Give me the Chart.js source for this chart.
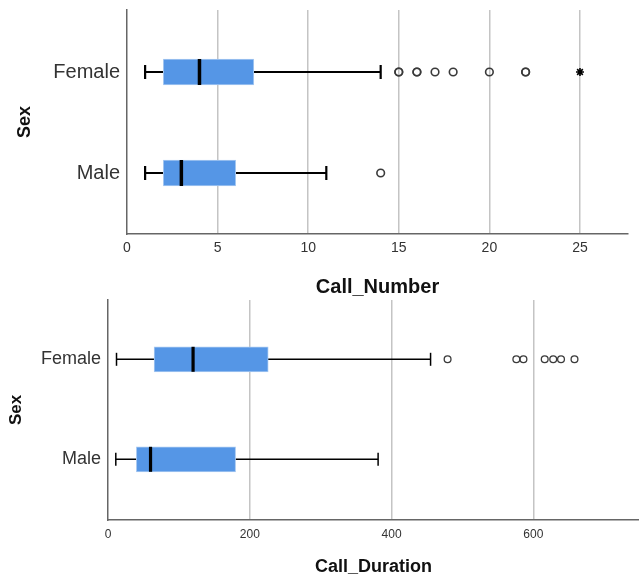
<!DOCTYPE html>
<html>
<head>
<meta charset="utf-8">
<script src="https://cdn.jsdelivr.net/npm/chart.js@4.4.0/dist/chart.umd.min.js"></script>
<style>
html, body { margin: 0; padding: 0; background: #fff; }
#wrapNumber { position: absolute; left: 0; top: 0; width: 639px; height: 299px; }
#wrapDuration { position: absolute; left: 0; top: 299px; width: 639px; height: 278px; }
</style>
</head>
<body>
<div id="wrapNumber"><canvas id="numberChart"></canvas></div>
<div id="wrapDuration"><canvas id="durationChart"></canvas></div>
<script>
// categories, top to bottom
const categories = ['Female', 'Male'];

// Call_Number box plot
const numberMin = [1, 1];
const numberQ1 = [2, 2];
const numberMedian = [4, 3];
const numberQ3 = [7, 6];
const numberMax = [14, 11];
// repeated values = several cases on the same spot (drawn darker)
const numberOutliers = [[15, 15, 16, 16, 17, 18, 20, 22, 22], [14]];
const numberExtremes = [[25], []];
const numberTicks = [0, 5, 10, 15, 20, 25];

// Call_Duration box plot
const durationMin = [12, 11];
const durationQ1 = [65, 40];
const durationMedian = [120, 60];
const durationQ3 = [226, 180];
const durationMax = [455, 381];
const durationOutliers = [[479, 576, 586, 616, 628, 639, 658], []];
const durationExtremes = [[], []];
const durationTicks = [0, 200, 400, 600];

Chart.defaults.font.family = "'Liberation Sans', Arial, sans-serif";
Chart.defaults.color = '#333';

function drawBoxChart(canvasId, s, look) {
    // Female sits on row 1, Male on row 0
    const rows = categories.map((c, i) => categories.length - 1 - i);
    const datasets = [];

    // whisker line, drawn under the box
    categories.forEach((c, i) => {
        datasets.push({
            type: 'scatter', indexAxis: 'x', showLine: true, order: 3,
            data: [{ x: s.min[i], y: rows[i] }, { x: s.max[i], y: rows[i] }],
            borderColor: '#000', borderWidth: look.whisker, pointRadius: 0
        });
    });

    // IQR box
    datasets.push({
        type: 'bar', order: 2,
        data: categories.map((c, i) => ({ x: [s.q1[i], s.q3[i]], y: rows[i] })),
        backgroundColor: '#5596e6', borderColor: '#a8c9f1', borderWidth: 1,
        borderSkipped: false, barThickness: look.box
    });

    // whisker caps
    datasets.push({
        type: 'scatter', indexAxis: 'x', order: 1,
        data: categories.flatMap((c, i) => [{ x: s.min[i], y: rows[i] }, { x: s.max[i], y: rows[i] }]),
        pointStyle: 'line', pointRotation: 90, pointRadius: look.cap,
        pointBorderColor: '#000', pointBorderWidth: look.whisker
    });

    // medians
    datasets.push({
        type: 'scatter', indexAxis: 'x', order: 1,
        data: categories.map((c, i) => ({ x: s.median[i], y: rows[i] })),
        pointStyle: 'line', pointRotation: 90, pointRadius: look.box / 2,
        pointBorderColor: '#000', pointBorderWidth: look.median
    });

    // outliers
    datasets.push({
        type: 'scatter', indexAxis: 'x', order: 1,
        data: categories.flatMap((c, i) => s.outliers[i].map(v => ({ x: v, y: rows[i] }))),
        pointStyle: 'circle', pointRadius: look.dot,
        pointBorderColor: '#3a3a3a', pointBackgroundColor: 'rgba(255,255,255,0)',
        pointBorderWidth: look.dotWidth
    });

    // extremes
    datasets.push({
        type: 'scatter', indexAxis: 'x', order: 1,
        data: categories.flatMap((c, i) => s.extremes[i].map(v => ({ x: v, y: rows[i] }))),
        pointStyle: 'star', pointRadius: 4,
        pointBorderColor: '#000', pointBorderWidth: 1.6
    });

    new Chart(document.getElementById(canvasId), {
        type: 'bar',
        data: { datasets: datasets },
        options: {
            indexAxis: 'y',
            responsive: true,
            maintainAspectRatio: false,
            animation: false,
            layout: { autoPadding: false, padding: { top: look.padTop, right: look.padRight, left: 0, bottom: 0 } },
            plugins: { legend: { display: false }, tooltip: { enabled: false } },
            scales: {
                x: {
                    type: 'linear', min: 0, max: s.xMax, offset: false,
                    afterBuildTicks: ax => { ax.ticks = s.ticks.map(v => ({ value: v })); },
                    afterFit: ax => { ax.height = look.xHeight; },
                    ticks: { font: { size: look.tickSize }, color: '#333', padding: look.tickPad, maxRotation: 0 },
                    grid: {
                        offset: false, drawTicks: false, lineWidth: 1.5,
                        color: ctx => (ctx.tick && ctx.tick.value === 0) ? 'rgba(0,0,0,0)' : '#c4c4c4'
                    },
                    border: { display: true, color: '#666', width: 1.5 },
                    title: {
                        display: true, text: s.xTitle, color: '#111',
                        font: { size: look.xTitleSize, weight: 'bold', lineHeight: look.xTitleLine },
                        padding: { top: 0, bottom: 0 }
                    }
                },
                y: {
                    type: 'linear', min: s.yMin, max: s.yMax, offset: false,
                    afterBuildTicks: ax => { ax.ticks = rows.map(r => ({ value: r })); },
                    afterFit: ax => {
                        ax.width = look.yWidth;
                        ax.paddingTop = 0;
                        ax.paddingBottom = 0;
                    },
                    ticks: {
                        font: { size: look.catSize }, color: '#333', padding: 7,
                        callback: v => categories[categories.length - 1 - v]
                    },
                    grid: { display: false, drawTicks: false, offset: false },
                    border: { display: true, color: '#666', width: 1.5 },
                    title: {
                        display: true, text: 'Sex', color: '#111',
                        font: { size: look.yTitleSize, weight: 'bold', lineHeight: 1.2 },
                        padding: { top: look.yTitlePad, bottom: 0 }
                    }
                }
            }
        }
    });
}

drawBoxChart('numberChart', {
    min: numberMin, q1: numberQ1, median: numberMedian, q3: numberQ3, max: numberMax,
    outliers: numberOutliers, extremes: numberExtremes, ticks: numberTicks,
    xMax: 27.65, yMin: -0.604, yMax: 1.614, xTitle: 'Call_Number'
}, {
    padTop: 10, padRight: 11, xHeight: 65, yWidth: 127,
    box: 26, cap: 7, whisker: 2.2, median: 3.5, dot: 3.8, dotWidth: 1.6,
    tickSize: 14, tickPad: 6, catSize: 20, xTitleSize: 20, xTitleLine: 1.2,
    yTitleSize: 18, yTitlePad: 14
});

drawBoxChart('durationChart', {
    min: durationMin, q1: durationQ1, median: durationMedian, q3: durationQ3, max: durationMax,
    outliers: durationOutliers, extremes: durationExtremes, ticks: durationTicks,
    xMax: 749, yMin: -0.607, yMax: 1.593, xTitle: 'Call_Duration'
}, {
    padTop: 1, padRight: 0, xHeight: 57, yWidth: 108,
    box: 25, cap: 6.5, whisker: 1.5, median: 3.2, dot: 3.4, dotWidth: 1.3,
    tickSize: 12, tickPad: 7, catSize: 18, xTitleSize: 18, xTitleLine: 1.1,
    yTitleSize: 17, yTitlePad: 6
});
</script>
</body>
</html>
